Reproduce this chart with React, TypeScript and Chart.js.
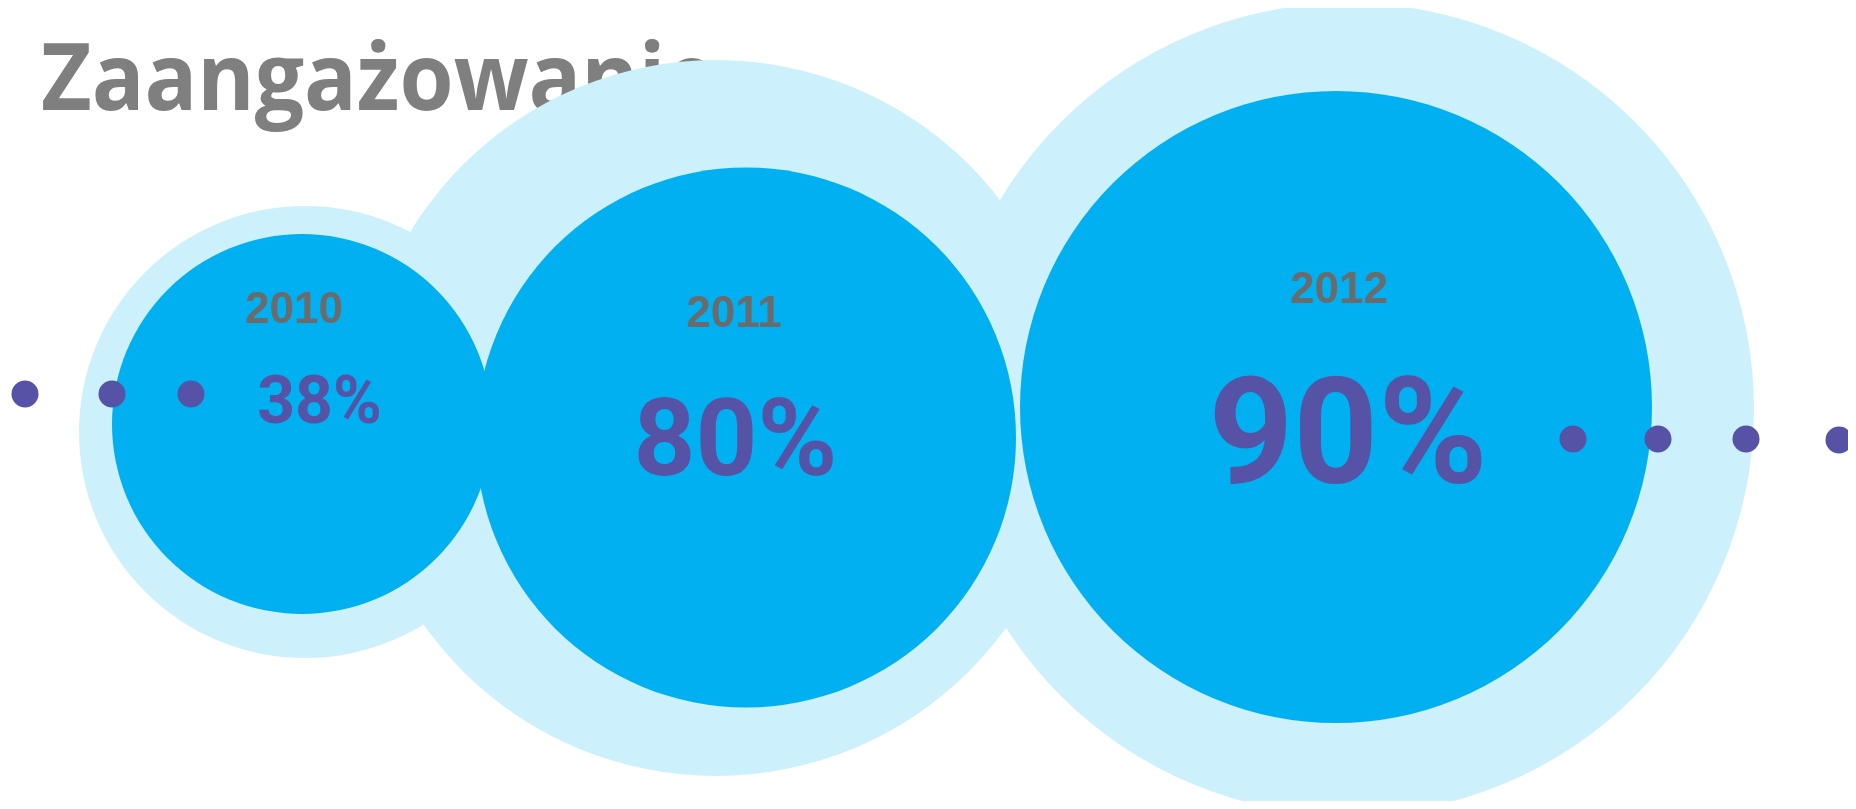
import React, { useEffect, useRef } from "react";
import { Chart, registerables } from "chart.js";

Chart.register(...registerables);

// ---- data (chart units = canvas pixels of the invisible axes) ----
const years = ["2010", "2011", "2012"];
const engagement = [38, 80, 90]; // %
const outerX = [297, 708, 1340];
const outerY = [424, 410, 401];
const outerR = [226, 358, 406];
const innerX = [294, 738, 1328];
const innerY = [416, 429.5, 399];
const innerR = [190, 270, 316];
const dotX = [17, 104, 183, 1565, 1650, 1738, 1831];
const dotY = [386, 386, 386, 431, 431, 431, 432];
const titleText = "Zaangażowanie";

// ---- styles ----
const DARK = "#00b0f0";
const LIGHT = "#ccf0fc";
const PURPLE = "#5652a5";
const YEAR_GRAY = "#6b6b6b";
const TITLE_GRAY = "#7f7f7f";
const TITLE_SQUEEZE = 0.94;
const yearOffset = [
  [-8, -101],
  [-12, -110.5],
  [3, -104],
];
const valueOffset = [
  [17.5, -1],
  [-10.5, 37.5],
  [12, 76],
];
const valueFont = [66, 108, 148];

const labelsPlugin = {
  id: "bubbleLabels",
  beforeDatasetsDraw(chart: any) {
    const ctx = chart.ctx;
    ctx.save();
    ctx.fillStyle = TITLE_GRAY;
    ctx.font = "bold 93px 'Open Sans'";
    ctx.textAlign = "left";
    ctx.textBaseline = "alphabetic";
    ctx.translate(33, 102);
    ctx.scale(TITLE_SQUEEZE, 1);
    ctx.fillText(titleText, 0, 0);
    ctx.restore();
  },
  afterDatasetsDraw(chart: any) {
    const ctx = chart.ctx;
    const xs = chart.scales.x;
    const ys = chart.scales.y;
    ctx.save();
    ctx.textAlign = "center";
    ctx.textBaseline = "alphabetic";
    years.forEach((yr, i) => {
      const cx = xs.getPixelForValue(innerX[i]);
      const cy = ys.getPixelForValue(innerY[i]);
      ctx.fillStyle = YEAR_GRAY;
      ctx.font = "bold 44px 'Liberation Sans'";
      ctx.fillText(yr, cx + yearOffset[i][0], cy + yearOffset[i][1]);
      ctx.fillStyle = PURPLE;
      ctx.font = `bold ${valueFont[i]}px Roboto`;
      ctx.fillText(engagement[i] + "%", cx + valueOffset[i][0], cy + valueOffset[i][1]);
    });
    ctx.restore();
  },
};

export default function App() {
  const ref = useRef<HTMLCanvasElement>(null);
  useEffect(() => {
    if (!ref.current) return;
    const chart = new Chart(ref.current, {
      type: "bubble",
      data: {
        datasets: [
          {
            label: "dots",
            data: dotX.map((x, i) => ({ x, y: dotY[i], r: 13.5 })),
            backgroundColor: PURPLE,
            borderWidth: 0,
            order: 0,
            clip: false,
          } as any,
          {
            label: "inner",
            data: innerX.map((x, i) => ({ x, y: innerY[i], r: innerR[i] })),
            backgroundColor: DARK,
            borderWidth: 0,
            order: 1,
            clip: false,
          } as any,
          {
            label: "outer",
            data: outerX.map((x, i) => ({ x, y: outerY[i], r: outerR[i] })),
            backgroundColor: LIGHT,
            borderWidth: 0,
            order: 2,
            clip: false,
          } as any,
        ],
      },
      options: {
        animation: false,
        responsive: true,
        maintainAspectRatio: false,
        events: [],
        layout: { padding: 0, autoPadding: false },
        plugins: {
          legend: { display: false },
          tooltip: { enabled: false },
          title: { display: false },
        },
        scales: {
          x: { type: "linear", min: 0, max: 1840, display: false },
          y: { type: "linear", min: 0, max: 793, reverse: true, display: false },
        },
      } as any,
      plugins: [labelsPlugin],
    });
    return () => chart.destroy();
  }, []);
  return (
    <div style={{ width: 1840, height: 793, position: "relative" }}>
      <canvas ref={ref} />
    </div>
  );
}
